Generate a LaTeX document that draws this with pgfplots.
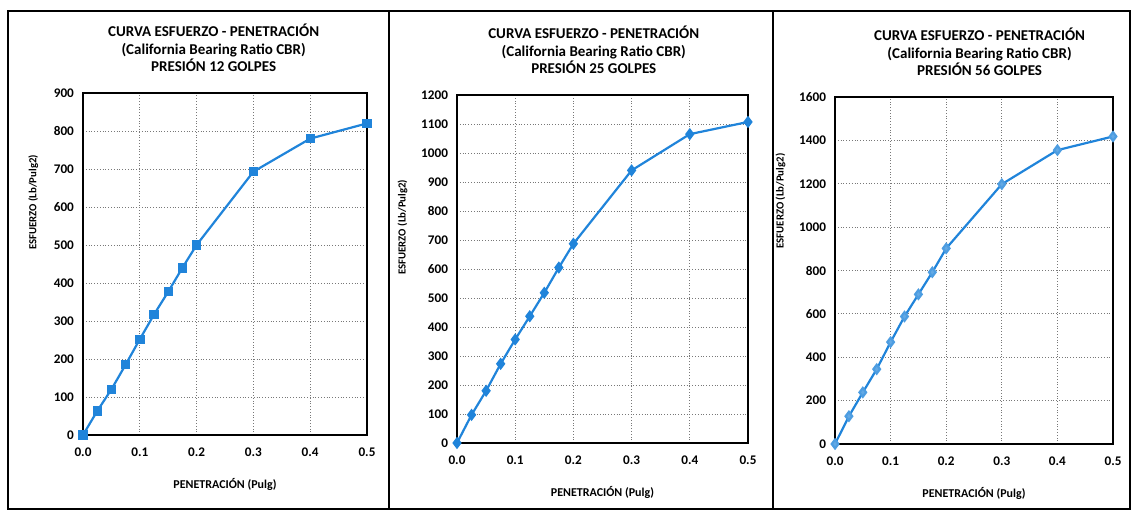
\documentclass[border=0pt]{standalone}
\usepackage{pgfplots}
\pgfplotsset{compat=1.18}
\usepackage{fontspec}
\setmainfont{Carlito}
\definecolor{exblue}{RGB}{32,132,218}
\definecolor{gridc}{RGB}{120,120,120}
\begin{document}
\begin{tikzpicture}
\path (0,0) rectangle (569pt,258.5pt);
\draw[line width=0.9pt] (4pt,253pt) rectangle (565pt,4pt);
\draw[line width=0.7pt] (194.5pt,253pt) -- (194.5pt,4pt);
\draw[line width=0.7pt] (386.5pt,253pt) -- (386.5pt,4pt);
\pgfplotsset{
  cbr/.style={
    scale only axis,
    anchor=south west,
    xmin=0, xmax=0.5, ymin=0,
    xtick={0,0.1,0.2,0.3,0.4,0.5},
    xticklabels={0.0,0.1,0.2,0.3,0.4,0.5},
    grid=major,
    major grid style={gridc, densely dotted, line width=0.4pt},
    axis line style={black, line width=0.8pt},
    tick style={draw=none},
    tick label style={font=\fontsize{6.6}{7}\selectfont\bfseries},
    /pgf/number format/assume math mode=true,
    /pgf/number format/1000 sep={},
    xlabel={PENETRACIÓN (Pulg)},
    ylabel={ESFUERZO (Lb/Pulg2)},
    xlabel style={font=\fontsize{6}{7}\selectfont\bfseries, yshift=-4pt},
    title style={font=\fontsize{7.5}{8.8}\selectfont\bfseries, align=center, yshift=1pt},
    xticklabel style={yshift=-3pt},
    yticklabel style={xshift=-1pt},
  }
}
\begin{axis}[cbr, at={(41.5pt,41pt)}, width=142pt, height=171pt,
  ymax=900, ytick={0,100,...,900},
  title={CURVA ESFUERZO - PENETRACIÓN\\(California Bearing Ratio CBR)\\PRESIÓN 12 GOLPES},
  ylabel style={at={(ticklabel cs:0.68)}, anchor=near ticklabel, font=\fontsize{5.4}{6}\selectfont\bfseries, yshift=1pt},
  title style={at={(0.46,1)}}]
\addplot[exblue, line width=1.1pt, mark=square*, mark size=1.8pt, mark options={fill=exblue}]
coordinates {(0,0) (0.025,63) (0.05,120) (0.075,185) (0.1,252) (0.125,317) (0.15,377) (0.175,440) (0.2,500) (0.3,693) (0.4,780) (0.5,820)};
\end{axis}
\begin{axis}[cbr, at={(228.5pt,37pt)}, width=145.5pt, height=174pt,
  ymax=1200, ytick={0,100,...,1200},
  title={CURVA ESFUERZO - PENETRACIÓN\\(California Bearing Ratio CBR)\\PRESIÓN 25 GOLPES},
  ylabel style={at={(ticklabel cs:0.62)}, anchor=near ticklabel, font=\fontsize{5.4}{6}\selectfont\bfseries, yshift=0pt},
  title style={at={(0.47,1)}}]
\addplot[exblue, line width=1.1pt, mark=diamond*, mark size=2.2pt, mark options={fill=exblue}]
coordinates {(0,0) (0.025,97) (0.05,180) (0.075,273) (0.1,357) (0.125,437) (0.15,518) (0.175,605) (0.2,687) (0.3,940) (0.4,1065) (0.5,1107)};
\end{axis}
\begin{axis}[cbr, at={(417.5pt,36.5pt)}, width=139pt, height=173.5pt,
  ymax=1600, ytick={0,200,...,1600},
  title={CURVA ESFUERZO - PENETRACIÓN\\(California Bearing Ratio CBR)\\PRESIÓN 56 GOLPES},
  ylabel style={at={(ticklabel cs:0.7)}, anchor=near ticklabel, font=\fontsize{5.4}{6}\selectfont\bfseries, yshift=0pt},
  title style={at={(0.52,1)}}]
\addplot[exblue, line width=1.1pt, mark=diamond*, mark size=2.2pt, mark options={fill=exblue!70!white, draw=exblue!80!white}]
coordinates {(0,0) (0.025,128) (0.05,238) (0.075,345) (0.1,470) (0.125,588) (0.15,690) (0.175,792) (0.2,902) (0.3,1198) (0.4,1355) (0.5,1418)};
\end{axis}
\end{tikzpicture}
\end{document}
